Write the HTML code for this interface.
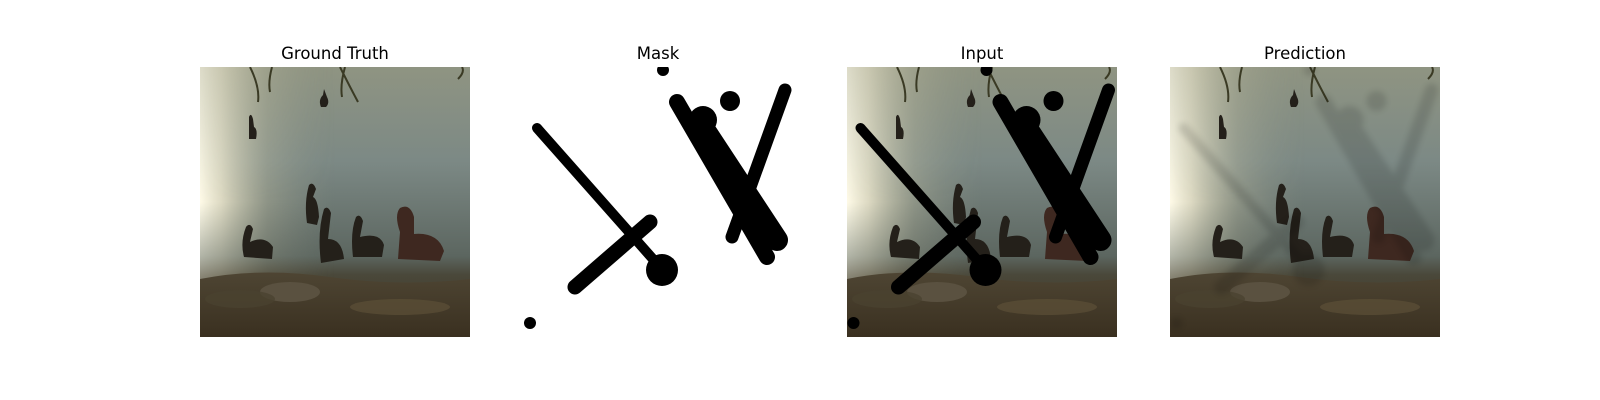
<!DOCTYPE html>
<html><head><meta charset="utf-8">
<style>
html,body{margin:0;padding:0;background:#fff;width:1600px;height:400px;overflow:hidden}
.t{position:absolute;top:44px;width:270px;text-align:center;font:16.5px "DejaVu Sans","Liberation Sans",sans-serif;color:#000}
svg{position:absolute;left:0;top:0}
</style></head><body>
<div class="t" style="left:200px">Ground Truth</div>
<div class="t" style="left:523px">Mask</div>
<div class="t" style="left:847px">Input</div>
<div class="t" style="left:1170px">Prediction</div>
<svg width="1600" height="400">
<defs>
<linearGradient id="wv" x1="0" y1="0" x2="0" y2="1">
<stop offset="0" stop-color="#8f9482"/><stop offset="0.35" stop-color="#7c8985"/><stop offset="0.7" stop-color="#5c6660"/><stop offset="0.77" stop-color="#4a483a"/><stop offset="1" stop-color="#3b3222"/>
</linearGradient>
<linearGradient id="glowx" x1="0" y1="0" x2="1" y2="0">
<stop offset="0" stop-color="#fffbe8"/><stop offset="0.08" stop-color="#f0ead0" stop-opacity="0.85"/><stop offset="0.25" stop-color="#c8c4a6" stop-opacity="0.35"/><stop offset="0.5" stop-color="#8e9483" stop-opacity="0"/>
</linearGradient>
<linearGradient id="glowmask" x1="0" y1="0" x2="0" y2="1">
<stop offset="0" stop-color="#fff" stop-opacity="0.7"/><stop offset="0.5" stop-color="#fff" stop-opacity="1"/><stop offset="0.8" stop-color="#fff" stop-opacity="0.3"/><stop offset="1" stop-color="#fff" stop-opacity="0"/>
</linearGradient>
<mask id="gm"><rect width="270" height="270" fill="url(#glowmask)"/></mask>
<linearGradient id="shore" x1="0" y1="0" x2="0" y2="1">
<stop offset="0" stop-color="#4e4533"/><stop offset="1" stop-color="#3a3020"/>
</linearGradient>
<symbol id="photo" viewBox="0 0 270 270">
<rect width="270" height="270" fill="url(#wv)"/>
<rect width="270" height="270" fill="url(#glowx)" mask="url(#gm)"/>
<path d="M0 212 Q60 200 130 210 T270 212 L270 270 L0 270Z" fill="url(#shore)"/>
<ellipse cx="90" cy="225" rx="30" ry="10" fill="#5a5140"/>
<ellipse cx="40" cy="232" rx="35" ry="9" fill="#4a4230" opacity="0.8"/>
<ellipse cx="200" cy="240" rx="50" ry="8" fill="#5d5038" opacity="0.7"/>
<path d="M50 0 Q60 20 58 35 M72 0 Q68 15 70 25 M140 0 Q150 20 158 35 M145 0 Q140 18 142 30 M262 0 Q265 5 258 12" stroke="#3a3a24" stroke-width="2" fill="none"/>
<g fill="#24201a">
<path d="M44 190 Q40 175 46 160 Q50 155 53 162 L50 175 Q65 168 73 180 L72 192Z"/>
<path d="M107 156 Q104 135 109 118 Q113 114 116 122 L113 130 Q118 132 119 150 L117 158Z"/>
<path d="M121 196 Q117 165 124 142 Q128 138 131 146 L128 172 Q142 172 144 192Z"/>
<path d="M153 190 Q150 165 156 150 Q160 146 163 154 L160 170 Q180 165 184 178 L182 190Z"/>
<path d="M49 72 L49 50 Q51 45 53 52 L54 60 Q58 62 56 72Z"/>
<path d="M121 40 Q118 33 123 28 L124 22 L127 30 Q130 36 126 40Z"/>
</g>
<path d="M198 192 L200 165 Q194 148 200 141 Q210 136 214 150 L214 167 Q238 165 244 184 L240 194Z" fill="#3e2820"/>
</symbol>
<g id="mk" fill="#000" stroke="#000" stroke-linecap="round">
<line x1="13.5" y1="61" x2="136.5" y2="200" stroke-width="10"/>
<line x1="51.5" y1="220" x2="126.5" y2="155" stroke-width="15"/>
<circle cx="138.5" cy="203" r="16" stroke="none"/>
<circle cx="139.5" cy="3" r="6" stroke="none"/>
<circle cx="6.5" cy="256" r="6" stroke="none"/>
<line x1="153.5" y1="35" x2="243.5" y2="190" stroke-width="16"/>
<line x1="176.5" y1="56" x2="253.5" y2="173" stroke-width="22"/>
<circle cx="179.5" cy="53" r="14" stroke="none"/>
<circle cx="206.5" cy="34" r="10" stroke="none"/>
<line x1="261.5" y1="23" x2="208.5" y2="170" stroke-width="13"/>
</g>
<clipPath id="cp"><rect width="270" height="270"/></clipPath>
</defs>
<g transform="translate(200,67)">
<use href="#photo" width="270" height="270"/>
</g>
<g transform="translate(523.5,67)" clip-path="url(#cp)">
<rect width="270" height="270" fill="#fff"/>
<use href="#mk"/>
</g>
<g transform="translate(847,67)" clip-path="url(#cp)">
<use href="#photo" width="270" height="270"/>
<use href="#mk"/>
</g>
<g transform="translate(1170,67)" clip-path="url(#cp)">
<use href="#photo" width="270" height="270"/>
<g opacity="0.12"><use href="#mk" style="filter:blur(3px)"/></g>
</g>
</svg>
</body></html>
